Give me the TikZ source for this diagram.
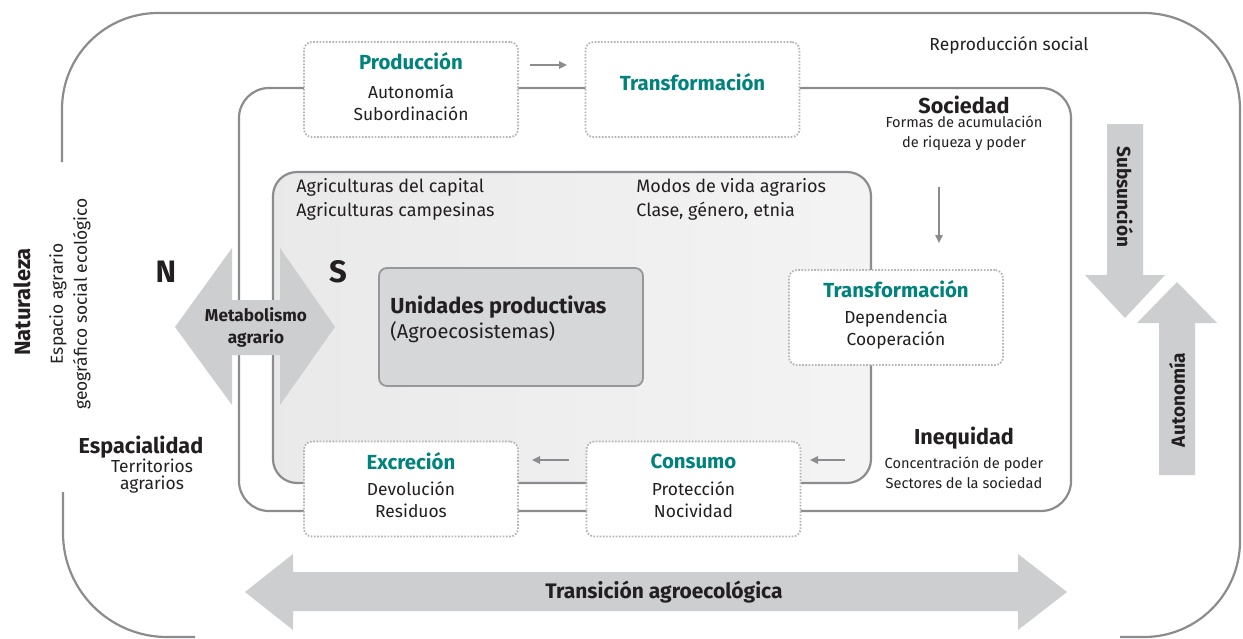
\documentclass[tikz,border=0pt]{standalone}
\usepackage{fontspec}
\setmainfont{Fira Sans}
\usetikzlibrary{arrows.meta}
\definecolor{verde}{HTML}{00827D}
\definecolor{linea}{HTML}{8C8C8E}
\definecolor{punteado}{HTML}{B4B4B4}
\definecolor{flechagris}{HTML}{CDCED0}
\definecolor{cajagris}{HTML}{D6D7D9}
\definecolor{texto}{HTML}{231F20}
\tikzset{
  marco/.style={draw=linea,line width=1.1pt},
  caja/.style={draw=punteado,fill=white,line width=0.9pt,dash pattern=on 0.8pt off 0.8pt,
    rounded corners=4pt,minimum width=107pt,minimum height=47.5pt,inner sep=0pt},
  titulo/.style={text=verde,font=\fontsize{10.2}{12}\selectfont\bfseries,inner sep=0pt},
  cuerpo/.style={text=texto,align=center,font=\fontsize{8.7}{11}\selectfont,inner sep=0pt},
  rotulo/.style={text=texto,font=\fontsize{10.8}{12}\selectfont\bfseries,inner sep=0pt},
  chico/.style={text=texto,align=center,font=\fontsize{7.3}{9.8}\selectfont,inner sep=0pt},
  lista/.style={text=texto,align=left,anchor=west,font=\fontsize{9}{12}\selectfont,inner sep=0pt},
  letra/.style={text=texto,font=\fontsize{15.5}{16}\selectfont\bfseries,inner sep=0pt},
  gruesa/.style={fill=flechagris},
  flechita/.style={draw=linea,line width=1pt,-{Triangle[length=4pt,width=3.6pt]}}
}
\begin{document}
\begin{tikzpicture}[x=0.5pt,y=-0.5pt]
\fill[white] (0,0) rectangle (1243,638);
\useasboundingbox (0,0) rectangle (1243,638);

\draw[marco,rounded corners=48pt] (62,162) |- (1240,13) -- (1240,637) -- (1120,637);
\draw[marco,rounded corners=52pt] (63,492) |- (195,637);

\draw[marco,fill=white,rounded corners=15pt] (239,88) rectangle (1071,511);
\draw[marco,left color=gray!17,right color=gray!9,rounded corners=12pt] (273,172) rectangle (871,483);

\node[draw=linea!90,fill=cajagris,line width=0.9pt,rounded corners=4pt,minimum width=132pt,minimum height=59pt] (unidades) at (511,327) {};
\node[text=texto,anchor=west,font=\fontsize{10.9}{12}\selectfont\bfseries,inner sep=0pt] (unidT) at (390,307) {Unidades productivas};
\node[text=texto,anchor=west,font=\fontsize{10}{12}\selectfont,inner sep=0pt] (unidB) at (390,332) {(Agroecosistemas)};

\fill[gruesa] (175,327) -- (232,248) -- (232,300) -- (280,300) -- (280,248) -- (335,327)
  -- (280,405) -- (280,355) -- (232,355) -- (232,405) -- cycle;
\node[text=texto,align=center,font=\fontsize{8.6}{11}\selectfont\bfseries,inner sep=0pt] (metab) at (256,327) {Metabolismo\\agrario};

\node[caja] (prod) at (411,89.5) {};
\node[caja] (transA) at (692.5,89.5) {};
\node[caja] (transB) at (896,317.5) {};
\node[caja] (excr) at (411,489) {};
\node[caja] (cons) at (693.5,489) {};

\node[titulo] (prodT) at (411,61) {Producción};
\node[cuerpo] (prodB) at (411,103) {Autonomía\\Subordinación};
\node[titulo] (transAT) at (692.5,82) {Transformación};
\node[titulo] (transBT) at (896,289) {Transformación};
\node[cuerpo] (transBB) at (896,330) {Dependencia\\Cooperación};
\node[titulo] (excrT) at (411,461) {Excreción};
\node[cuerpo] (excrB) at (411,500) {Devolución\\Residuos};
\node[titulo] (consT) at (693.5,461) {Consumo};
\node[cuerpo] (consB) at (693.5,500) {Protección\\Nocividad};

\node[cuerpo] (reprod) at (1009,45) {Reproducción social};
\node[rotulo] (socie) at (964,105) {Sociedad};
\node[chico] (socieB) at (964,133) {Formas de acumulación\\de riqueza y poder};
\node[rotulo] (ineq) at (964,438) {Inequidad};
\node[chico] (ineqB) at (964,473) {Concentración de poder\\Sectores de la sociedad};
\node[lista] (agric) at (296,199) {Agriculturas del capital\\Agriculturas campesinas};
\node[lista] (modos) at (636,199) {Modos de vida agrarios\\Clase, género, etnia};
\node[letra] (norte) at (166,272) {N};
\node[letra] (sur) at (338,272) {S};

\node[rotulo] (espac) at (141,447) {Espacialidad};
\node[cuerpo,font=\fontsize{8.7}{8.3}\selectfont] (espacB) at (152,476) {Territorios\\agrarios};
\node[rotulo,rotate=90,font=\fontsize{11}{12}\selectfont\bfseries] (natur) at (22,302) {Naturaleza};
\node[cuerpo,rotate=90,font=\fontsize{8.7}{12}\selectfont] (naturB) at (70,304) {Espacio agrario\\geográfico social ecológico};

\fill[gruesa] (1107,124) -- (1143,124) -- (1143,275) -- (1165,275) -- (1125,318) -- (1085,275) -- (1107,275) -- cycle;
\fill[gruesa] (1159,475) -- (1195,475) -- (1195,323) -- (1217,323) -- (1177,282) -- (1137,323) -- (1159,323) -- cycle;
\node[rotulo,rotate=-90,font=\fontsize{9.5}{12}\selectfont\bfseries] (subs) at (1125,197) {Subsunción};
\node[rotulo,rotate=90,font=\fontsize{9.5}{12}\selectfont\bfseries] (auton) at (1177,400) {Autonomía};

\fill[gruesa] (245,592) -- (293,554) -- (293,572) -- (1018,572) -- (1018,554) -- (1067,592)
  -- (1018,630) -- (1018,611) -- (293,611) -- (293,630) -- cycle;
\node[rotulo,font=\fontsize{10.5}{12}\selectfont\bfseries] (trans) at (664,592) {Transición agroecológica};

\coordinate (a1) at (530,65);
\coordinate (a2) at (567,65);
\coordinate (b1) at (939,187);
\coordinate (b2) at (939,243);
\coordinate (c1) at (845,460);
\coordinate (c2) at (810,460);
\coordinate (d1) at (569,460);
\coordinate (d2) at (532,460);
\draw[flechita] (a1) -- (a2);
\draw[flechita] (b1) -- (b2);
\draw[flechita] (c1) -- (c2);
\draw[flechita] (d1) -- (d2);
\end{tikzpicture}
\end{document}
